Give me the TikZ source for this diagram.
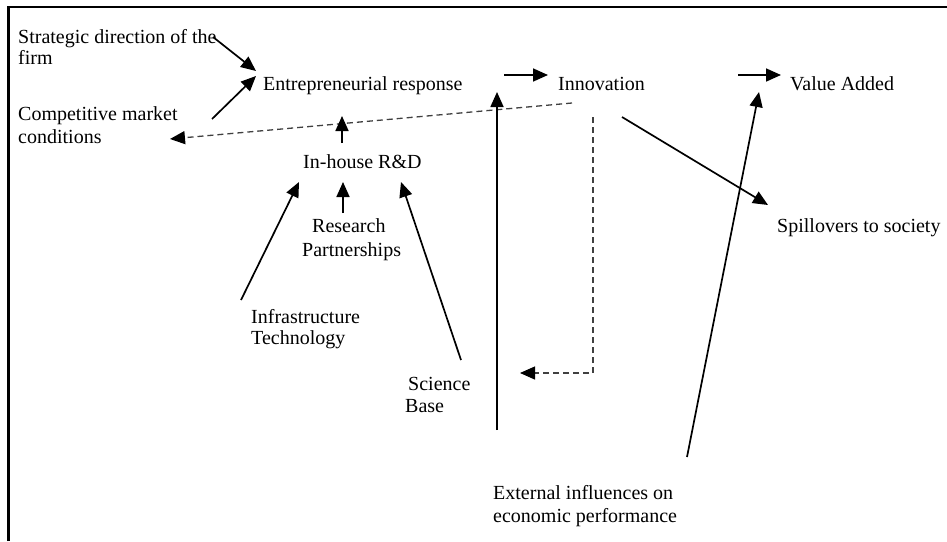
\documentclass[tikz,border=0pt]{standalone}
\usepackage{fontspec}
\setmainfont{Liberation Serif}
\usetikzlibrary{arrows.meta}
\begin{document}
\begin{tikzpicture}[x=1pt,y=-1pt,
  lbl/.style={anchor=base west,inner sep=0pt,align=left,font=\fontsize{20}{22}\selectfont,text=black},
  arr/.style={line width=1.7pt,-{Triangle[length=15pt,width=13pt]}},
  darr/.style={line width=1.3pt,dash pattern=on 6pt off 4pt,draw=black!75,-{Triangle[length=15pt,width=13pt,color=black]}}]
\useasboundingbox (0,0) rectangle (947,541);
\fill[white] (0,0) rectangle (947,541);
% frame (only top and left visible)
\draw[line width=2.2pt] (8.5,541) -- (8.5,7) -- (947,7);
% labels (multi-line nodes: anchor on the last line's baseline)
\node[lbl] (strat) at (18,64) {Strategic direction of the\\[-1pt]firm};
\node[lbl] (comp) at (18,143) {Competitive market\\[1pt]conditions};
\node[lbl] (ent) at (263,90) {Entrepreneurial response};
\node[lbl] (inn) at (558,90) {Innovation};
\node[lbl] (va) at (790,90) {Value Added};
\node[lbl] (rd) at (303,168) {In-house R\&D};
\node[lbl] (spill) at (777,232) {Spillovers to society};
\node[lbl] (res) at (312,232) {Research};
\node[lbl] (part) at (302,256) {Partnerships};
\node[lbl] (infra) at (251,344) {Infrastructure\\[-1pt]Technology};
\node[lbl] (sci) at (408,390) {Science};
\node[lbl] (base) at (405,412) {Base};
\node[lbl] (ext) at (493,522) {External influences on\\[1pt]economic performance};
% connector end points
\coordinate (strat-o) at (213,37);
\coordinate (ent-i1) at (256,71);
\coordinate (comp-o) at (212,119);
\coordinate (ent-i2) at (256,76);
\coordinate (rd-o) at (342,143);
\coordinate (ent-i3) at (342,116);
\coordinate (ent-o) at (504,75);
\coordinate (inn-i) at (548,75);
\coordinate (inn-o1) at (738,75);
\coordinate (va-i1) at (781,75);
\coordinate (inn-d) at (572,103);
\coordinate (comp-i) at (170,139);
\coordinate (ext-o1) at (497,430);
\coordinate (inn-i2) at (497,92);
\coordinate (inn-d2) at (593,117);
\coordinate (corner) at (593,373);
\coordinate (loop-i) at (520,373);
\coordinate (inn-o2) at (622,117);
\coordinate (spill-i) at (768,205);
\coordinate (ext-o2) at (687,457);
\coordinate (va-i2) at (759,92);
\coordinate (infra-o) at (241,300);
\coordinate (rd-i1) at (299,182);
\coordinate (res-o) at (343,213);
\coordinate (rd-i2) at (343,182);
\coordinate (sci-o) at (461,360);
\coordinate (rd-i3) at (401,182);
% connectors
\draw[arr] (strat-o) -- (ent-i1);
\draw[arr] (comp-o) -- (ent-i2);
\draw[darr] (inn-d) -- (comp-i);
\draw[arr] (rd-o) -- (ent-i3);
\draw[arr] (ent-o) -- (inn-i);
\draw[arr] (inn-o1) -- (va-i1);
\draw[arr] (ext-o1) -- (inn-i2);
\draw[darr] (inn-d2) -- (corner) -- (loop-i);
\draw[arr] (inn-o2) -- (spill-i);
\draw[arr] (ext-o2) -- (va-i2);
\draw[arr] (infra-o) -- (rd-i1);
\draw[arr] (res-o) -- (rd-i2);
\draw[arr] (sci-o) -- (rd-i3);
\end{tikzpicture}
\end{document}
